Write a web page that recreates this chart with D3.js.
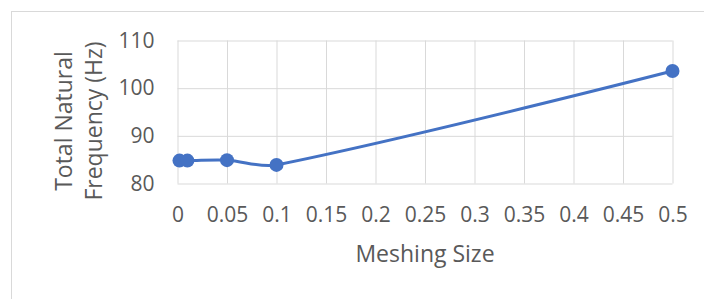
<!DOCTYPE html>
<html>
<head>
<meta charset="utf-8">
<script src="https://cdn.jsdelivr.net/npm/d3@7"></script>
<style>
  body { margin: 0; background: #fff; }
  text { font-family: "Open Sans", sans-serif; fill: #595959; }
</style>
</head>
<body>
<div id="chart"></div>
<script>
// mesh sizes and the frequency
var meshSize = [0.002, 0.01, 0.05, 0.1, 0.5];
var frequency = [84.8, 84.8, 84.9, 83.9, 103.6];
var xTicks = [0, 0.05, 0.1, 0.15, 0.2, 0.25, 0.3, 0.35, 0.4, 0.45, 0.5];
var yTicks = [80, 90, 100, 110];

var config = {
    width: 704,
    height: 299,
    plot: { left: 177.5, right: 672.5, top: 40.5, bottom: 183.5 },
    colors: { line: '#4472C4', grid: '#d9d9d9', border: '#d9d9d9', text: '#595959' },
    tickSize: 21,
    titleSize: 23
};

/* Smoothing like a spreadsheet "smoothed line": a bezier through every point,
** tangent from the neighbours, split between the two sides by segment length
** so a short leg next to a long one does not overshoot.
*/
function smoothCurve(context) {
    var pts;
    return {
        areaStart: function () {},
        areaEnd: function () {},
        lineStart: function () { pts = []; },
        point: function (px, py) { pts.push([+px, +py]); },
        lineEnd: function () {
            var n = pts.length;
            if (!n) return;
            context.moveTo(pts[0][0], pts[0][1]);
            if (n < 3) {
                if (n == 2) context.lineTo(pts[1][0], pts[1][1]);
                return;
            }
            var dist = function (a, b) { return Math.hypot(b[0] - a[0], b[1] - a[1]); };
            var out = [], inn = [];
            for (var i = 0; i < n; i++) {
                if (i == 0 || i == n - 1) { out[i] = pts[i]; inn[i] = pts[i]; continue; }
                var tx = pts[i + 1][0] - pts[i - 1][0], ty = pts[i + 1][1] - pts[i - 1][1];
                var dp = dist(pts[i - 1], pts[i]), dn = dist(pts[i], pts[i + 1]);
                var wn = dn / (dp + dn) / 3, wp = dp / (dp + dn) / 3;
                out[i] = [pts[i][0] + tx * wn, pts[i][1] + ty * wn];
                inn[i] = [pts[i][0] - tx * wp, pts[i][1] - ty * wp];
            }
            for (var j = 1; j < n; j++) {
                context.bezierCurveTo(out[j - 1][0], out[j - 1][1], inn[j][0], inn[j][1], pts[j][0], pts[j][1]);
            }
        }
    };
}

var svg = d3.select('#chart').append('svg')
    .attr('width', config.width)
    .attr('height', config.height);

// chart area frame
svg.append('rect')
    .attr('x', 11.5).attr('y', 11.5)
    .attr('width', 720).attr('height', 320)
    .attr('fill', 'none')
    .attr('stroke', config.colors.border);

var x = d3.scaleLinear().domain([0, 0.5]).range([config.plot.left, config.plot.right]);
var y = d3.scaleLinear().domain([80, 110]).range([config.plot.bottom, config.plot.top]);

// gridlines
var xAxis = d3.axisBottom(x).tickValues(xTicks)
    .tickSize(-(config.plot.bottom - config.plot.top))
    .tickFormat(function (d) { return d3.format('')(+d.toFixed(2)); });
var gx = svg.append('g')
    .attr('transform', 'translate(0,' + config.plot.bottom + ')')
    .call(xAxis);
gx.select('.domain').remove();
gx.selectAll('line').attr('stroke', config.colors.grid);
gx.selectAll('text')
    .attr('y', 38)
    .attr('dy', 0)
    .style('font-size', config.tickSize + 'px')
    .attr('fill', config.colors.text);

var yAxis = d3.axisLeft(y).tickValues(yTicks)
    .tickSize(-(config.plot.right - config.plot.left))
    .tickFormat(d3.format('d'));
var gy = svg.append('g')
    .attr('transform', 'translate(' + config.plot.left + ',0)')
    .call(yAxis);
gy.select('.domain').remove();
gy.selectAll('line').attr('stroke', config.colors.grid);
gy.selectAll('text')
    .attr('x', -23)
    .style('font-size', config.tickSize + 'px')
    .attr('fill', config.colors.text);

// the smoothed series line
var points = meshSize.map(function (d, i) { return [d, frequency[i]]; });
var line = d3.line()
    .x(function (d) { return x(d[0]); })
    .y(function (d) { return y(d[1]); })
    .curve(smoothCurve);

svg.append('path')
    .datum(points)
    .attr('d', line)
    .attr('fill', 'none')
    .attr('stroke', config.colors.line)
    .attr('stroke-width', 3);

svg.selectAll('.dot')
    .data(points)
    .enter().append('circle')
    .attr('cx', function (d) { return x(d[0]); })
    .attr('cy', function (d) { return y(d[1]); })
    .attr('r', 7)
    .attr('fill', config.colors.line);

// axis titles
svg.append('text')
    .attr('x', (config.plot.left + config.plot.right) / 2)
    .attr('y', 262)
    .attr('text-anchor', 'middle')
    .style('font-size', config.titleSize + 'px')
    .text('Meshing Size');

var yTitle = svg.append('text')
    .attr('transform', 'translate(72,121) rotate(-90)')
    .attr('text-anchor', 'middle')
    .style('font-size', config.titleSize + 'px');
yTitle.append('tspan').attr('x', 0).attr('dy', 0).text('Total Natural');
yTitle.append('tspan').attr('x', 0).attr('dy', 30).text('Frequency (Hz)');
</script>
</body>
</html>
